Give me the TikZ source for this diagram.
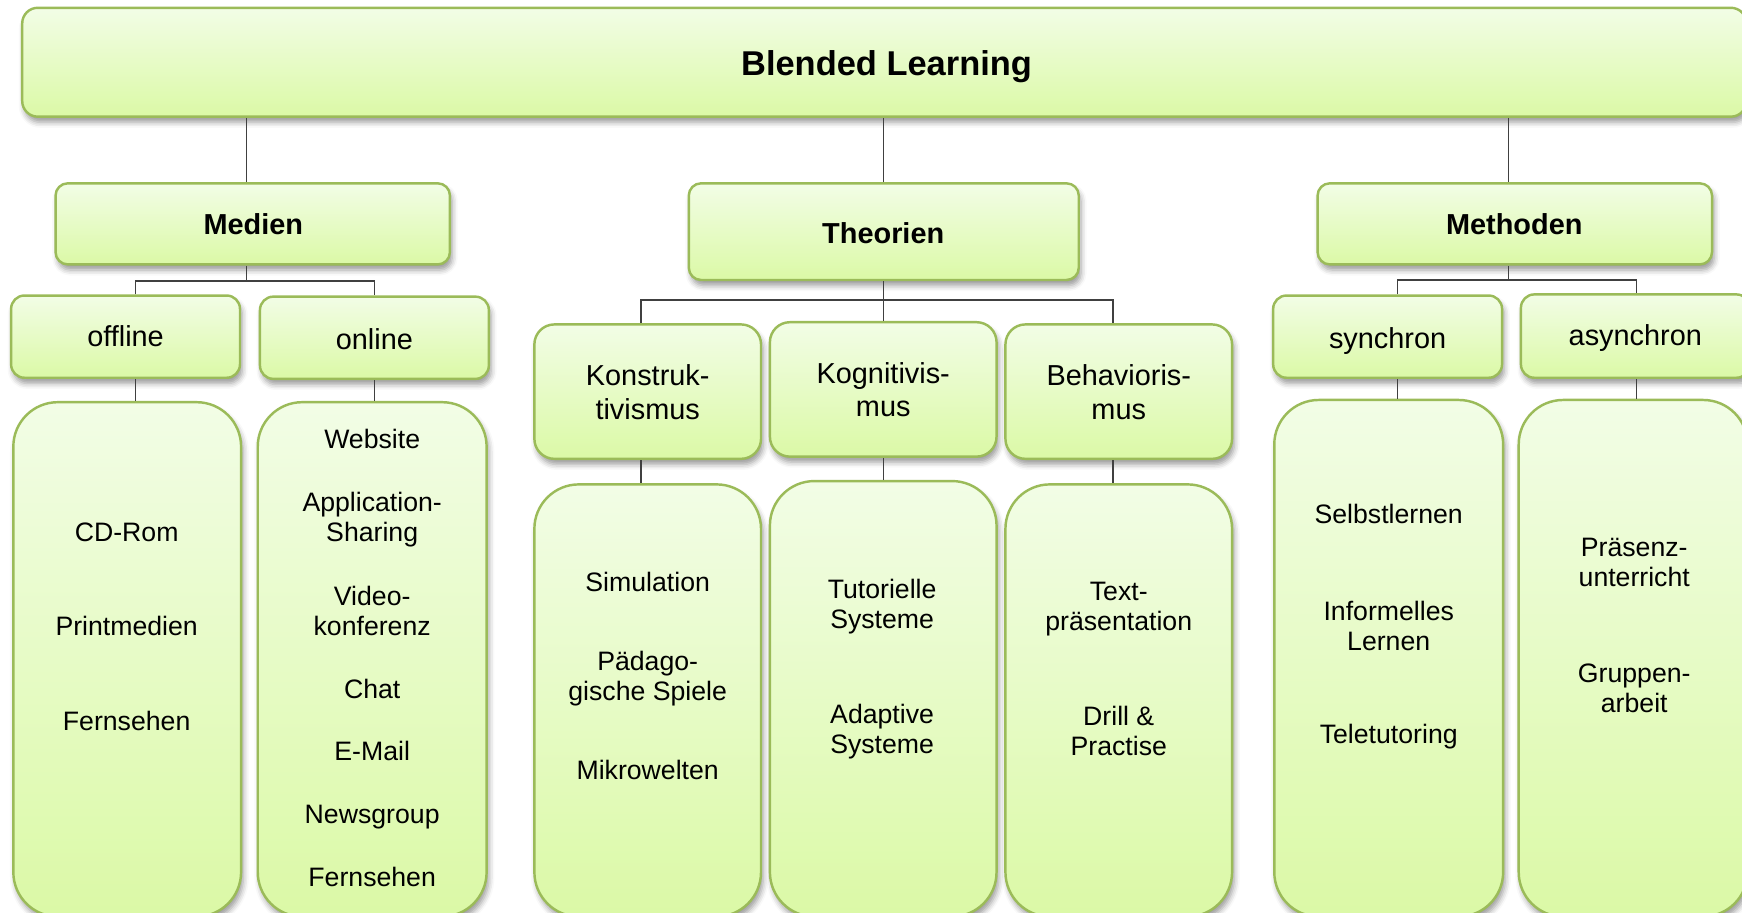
\documentclass[tikz,border=0pt]{standalone}
\usepackage{fontspec}
\setmainfont{Liberation Sans}
\usetikzlibrary{fit,shadows.blur}

\definecolor{boxline}{RGB}{155,187,89}
\definecolor{boxtop}{RGB}{242,253,230}
\definecolor{boxbot}{RGB}{219,249,166}
\definecolor{wiregray}{RGB}{64,64,64}

\tikzset{
  card/.style={rectangle, draw=boxline, line width=1.1pt, top color=boxtop,
    bottom color=boxbot, inner sep=0pt,
    blur shadow={shadow xshift=1pt, shadow yshift=-2.5pt,
      shadow blur radius=2.5pt, shadow opacity=40}},
  bar/.style={card, rounded corners=7pt},
  headbox/.style={card, rounded corners=5.5pt},
  subbox/.style={card, rounded corners=6pt},
  theobox/.style={card, rounded corners=9pt},
  listbox/.style={card, rounded corners=20pt},
  wire/.style={draw=wiregray, line width=0.65pt},
  itemtxt/.style={font=\fontsize{12pt}{13.5pt}\selectfont, align=center,
    inner sep=0pt, yshift=-1.6pt},
  labtxt/.style={font=\fontsize{13pt}{15pt}\selectfont, align=center,
    inner sep=0pt, yshift=-1.65pt},
  headtxt/.style={font=\bfseries\fontsize{13pt}{15pt}\selectfont,
    inner sep=0pt, yshift=-1.65pt},
  titletxt/.style={font=\bfseries\fontsize{15.5pt}{18pt}\selectfont,
    inner sep=0pt, yshift=-1.95pt}
}

\begin{document}
\begin{tikzpicture}[x=0.5pt, y={(0pt,-0.5pt)}]
\useasboundingbox (0,0) rectangle (1568,821);
\clip (0,0) rectangle (1568,821);

% ---------- boxes ----------
\node[bar, fit={(20,7) (1572,105)}] (top) {};

\node[headbox, fit={(50,165) (405,238)}] (medien) {};
\node[headbox, fit={(620,165) (971,252)}] (theorien) {};
\node[headbox, fit={(1186,165) (1541,238)}] (methoden) {};

\node[subbox, fit={(10,266) (216,340)}] (offline) {};
\node[subbox, fit={(234,267) (440,341)}] (online) {};
\node[subbox, fit={(1146,266) (1352,340)}] (synchron) {};
\node[subbox, fit={(1369,265) (1575,340)}] (asynchron) {};

\node[theobox, fit={(481,292) (685,413)}] (konstr) {};
\node[theobox, fit={(693,290) (897,411)}] (kogn) {};
\node[theobox, fit={(905,292) (1109,413)}] (behav) {};

\node[listbox, fit={(12,362) (217,825)}] (l-offline) {};
\node[listbox, fit={(232,362) (438,825)}] (l-online) {};
\node[listbox, fit={(481,436) (685,825)}] (l-konstr) {};
\node[listbox, fit={(693,433) (897,825)}] (l-kogn) {};
\node[listbox, fit={(905,436) (1109,825)}] (l-behav) {};
\node[listbox, fit={(1147,360) (1353,825)}] (l-synchron) {};
\node[listbox, fit={(1367,360) (1573,825)}] (l-asynchron) {};

% ---------- connector columns and bus levels ----------
\coordinate (cM) at (222,0);
\coordinate (cT) at (795,0);
\coordinate (cH) at (1358,0);
\coordinate (cOff) at (122,0);
\coordinate (cOn) at (337,0);
\coordinate (cKon) at (577,0);
\coordinate (cBeh) at (1002,0);
\coordinate (cSyn) at (1258,0);
\coordinate (cAsy) at (1473,0);
\coordinate (busM) at (0,253);
\coordinate (busT) at (0,270);
\coordinate (busH) at (0,252);

% ---------- connectors ----------
\draw[wire] (top.south -| cM) -- (medien.north -| cM);
\draw[wire] (top.south -| cT) -- (theorien.north -| cT);
\draw[wire] (top.south -| cH) -- (methoden.north -| cH);

\draw[wire] (medien.south -| cM) -- (busM -| cM);
\draw[wire] (offline.north -| cOff) -- (busM -| cOff) -- (busM -| cOn) -- (online.north -| cOn);
\draw[wire] (offline.south -| cOff) -- (l-offline.north -| cOff);
\draw[wire] (online.south -| cOn) -- (l-online.north -| cOn);

\draw[wire] (theorien.south -| cT) -- (kogn.north -| cT);
\draw[wire] (konstr.north -| cKon) -- (busT -| cKon) -- (busT -| cBeh) -- (behav.north -| cBeh);
\draw[wire] (konstr.south -| cKon) -- (l-konstr.north -| cKon);
\draw[wire] (kogn.south -| cT) -- (l-kogn.north -| cT);
\draw[wire] (behav.south -| cBeh) -- (l-behav.north -| cBeh);

\draw[wire] (methoden.south -| cH) -- (busH -| cH);
\draw[wire] (synchron.north -| cSyn) -- (busH -| cSyn) -- (busH -| cAsy) -- (asynchron.north -| cAsy);
\draw[wire] (synchron.south -| cSyn) -- (l-synchron.north -| cSyn);
\draw[wire] (asynchron.south -| cAsy) -- (l-asynchron.north -| cAsy);

% ---------- titles ----------
\node[titletxt] (t-top) at (798,57) {\strut Blended Learning};
\node[headtxt] (t-medien) at (228,202) {\strut Medien};
\node[headtxt] (t-theorien) at (795,210) {\strut Theorien};
\node[headtxt] (t-methoden) at (1363,202) {\strut Methoden};

\node[labtxt] (t-offline) at (113,303) {\strut offline};
\node[labtxt] (t-online) at (337,305) {\strut online};
\node[labtxt] (t-synchron) at (1249,304) {\strut synchron};
\node[labtxt] (t-asynchron) at (1472,302) {\strut asynchron};

\node[labtxt] (t-konstr) at (583,353) {\strut Konstruk-\\\strut tivismus};
\node[labtxt] (t-kogn) at (795,351) {\strut Kognitivis-\\\strut mus};
\node[labtxt] (t-behav) at (1007,353) {\strut Behavioris-\\\strut mus};

% ---------- list entries ----------
\node[itemtxt] (i-cdrom) at (114,479) {\strut CD-Rom};
\node[itemtxt] (i-print) at (114,563) {\strut Printmedien};
\node[itemtxt] (i-tv1) at (114,649) {\strut Fernsehen};

\node[itemtxt] (i-web) at (335,395) {\strut Website};
\node[itemtxt] (i-appshare) at (335,465.5) {\strut Application-\\\strut Sharing};
\node[itemtxt] (i-video) at (335,549.5) {\strut Video-\\\strut konferenz};
\node[itemtxt] (i-chat) at (335,620) {\strut Chat};
\node[itemtxt] (i-mail) at (335,676) {\strut E-Mail};
\node[itemtxt] (i-news) at (335,733) {\strut Newsgroup};
\node[itemtxt] (i-tv2) at (335,789) {\strut Fernsehen};

\node[itemtxt] (i-sim) at (583,524) {\strut Simulation};
\node[itemtxt] (i-paed) at (583,608.5) {\strut Pädago-\\\strut gische Spiele};
\node[itemtxt] (i-mikro) at (583,693) {\strut Mikrowelten};

\node[itemtxt] (i-tut) at (794,543.5) {\strut Tutorielle\\\strut Systeme};
\node[itemtxt] (i-adapt) at (794,656.5) {\strut Adaptive\\\strut Systeme};

\node[itemtxt] (i-text) at (1007,545) {\strut Text-\\\strut präsentation};
\node[itemtxt] (i-drill) at (1007,657.5) {\strut Drill \&\\\strut Practise};

\node[itemtxt] (i-selbst) at (1250,463) {\strut Selbstlernen};
\node[itemtxt] (i-informell) at (1250,563) {\strut Informelles\\\strut Lernen};
\node[itemtxt] (i-teletut) at (1250,661) {\strut Teletutoring};

\node[itemtxt] (i-praesenz) at (1471,506) {\strut Präsenz-\\\strut unterricht};
\node[itemtxt] (i-gruppe) at (1471,619) {\strut Gruppen-\\\strut arbeit};
\end{tikzpicture}
\end{document}
